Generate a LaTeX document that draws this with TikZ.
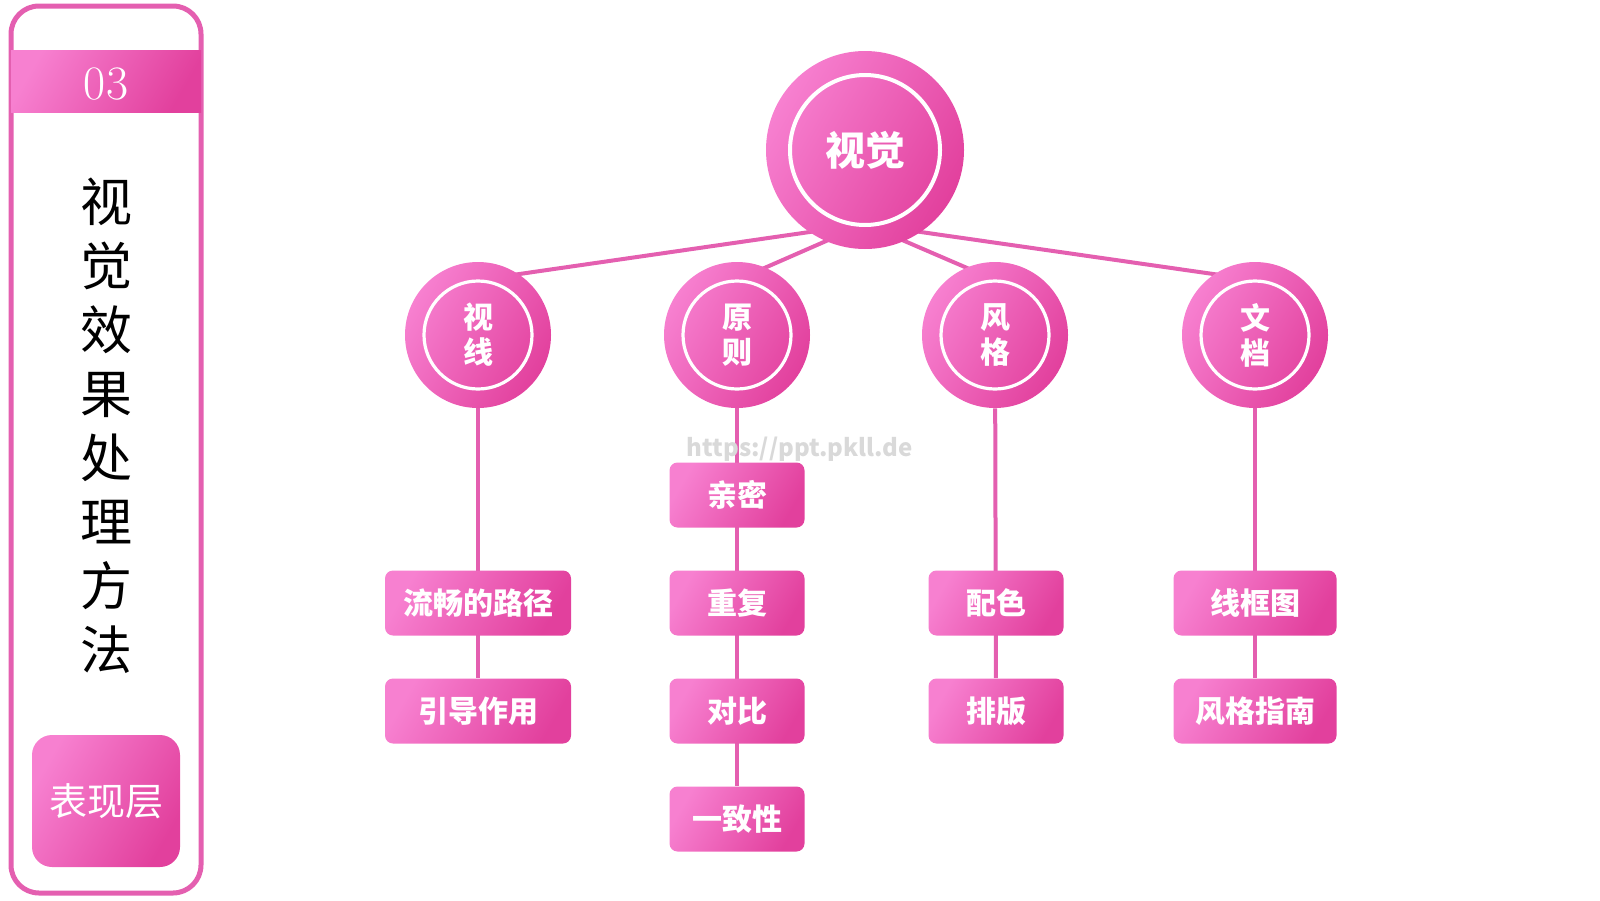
\documentclass[tikz,border=0pt]{standalone}
\usepackage{fontspec}
\newfontfamily\cjk{Noto Sans CJK SC}
\usetikzlibrary{backgrounds}
\definecolor{pinkline}{HTML}{E45FB0}
\definecolor{pinklight}{HTML}{F780D0}
\definecolor{pinkdark}{HTML}{E2409D}

\begin{document}
\begin{tikzpicture}[x=0.5pt, y=-0.5pt,
      pinkfill/.style={left color=pinklight, right color=pinkdark, shading angle=60},
      hub/.style={circle, minimum size=99pt, pinkfill, text=white, font=\cjk\bfseries\fontsize{20}{24}\selectfont,
        path picture={\draw[white, line width=2pt] (path picture bounding box.center) circle (37.5pt);}},
      topic/.style={circle, minimum size=73pt, pinkfill, text=white, align=center, font=\cjk\bfseries\fontsize{15}{17.5}\selectfont,
        path picture={\draw[white, line width=1.6pt] (path picture bounding box.center) circle (27pt);}},
      item/.style={rounded corners=4pt, minimum height=32.5pt, pinkfill, text=white, font=\cjk\bfseries\fontsize{15}{18}\selectfont},
      conn/.style={draw=pinkline, line width=2pt}
    ]
      \useasboundingbox (0,0) rectangle (1600,900);

      % left panel
      \node[draw=pinkline, line width=2.5pt, rounded corners=14pt, minimum width=95pt, minimum height=443.5pt] (panel) at (106,449.5) {};
      \node[minimum width=95pt, minimum height=31pt, inner sep=0pt, pinkfill] (band) at (106,81) {};
      \node[text=white, font=\fontsize{24}{28}\selectfont] (num) at (106,84) {03};
      \node[align=center, font=\cjk\fontsize{26}{32}\selectfont] (title) at (106,426) {视\\觉\\效\\果\\处\\理\\方\\法};
      \node[rounded corners=10pt, minimum width=74pt, minimum height=66pt, pinkfill, text=white, font=\cjk\fontsize{19}{22}\selectfont] (layer) at (106,801) {表现层};

      % tree
      \node[hub] (top) at (865,150) {视觉};
      \node[topic] (c1) at (478,335) {视\\线};
      \node[topic] (c2) at (737,335) {原\\则};
      \node[topic] (c3) at (995,335) {风\\格};
      \node[topic] (c4) at (1255,335) {文\\档};

      \node[item, minimum width=93pt] (b1a) at (478,603) {流畅的路径};
      \node[item, minimum width=93pt] (b1b) at (478,711) {引导作用};
      \node[item, minimum width=67.5pt] (b2a) at (737,495) {亲密};
      \node[item, minimum width=67.5pt] (b2b) at (737,603) {重复};
      \node[item, minimum width=67.5pt] (b2c) at (737,711) {对比};
      \node[item, minimum width=67.5pt] (b2d) at (737,819) {一致性};
      \node[item, minimum width=67.5pt] (b3a) at (996,603) {配色};
      \node[item, minimum width=67.5pt] (b3b) at (996,711) {排版};
      \node[item, minimum width=81.5pt] (b4a) at (1255,603) {线框图};
      \node[item, minimum width=81.5pt] (b4b) at (1255,711) {风格指南};

      \node[text=black!15, font=\cjk\bfseries\fontsize{12}{14}\selectfont] (mark) at (800,449) {https://ppt.pkll.de};

      \begin{scope}[on background layer]
        \draw[conn] ([yshift=-37pt]top.center) -- ([yshift=27.5pt]c1.center);
        \draw[conn] ([yshift=-37pt]top.center) -- ([yshift=27.5pt]c2.center);
        \draw[conn] ([yshift=-37pt]top.center) -- ([yshift=27.5pt]c3.center);
        \draw[conn] ([yshift=-37pt]top.center) -- ([yshift=27.5pt]c4.center);
        \draw[conn] (c1) -- (b1b);
        \draw[conn] (c2) -- (b2d);
        \draw[conn] (c3) -- (b3b);
        \draw[conn] (c4) -- (b4b);
      \end{scope}
    \end{tikzpicture}
\end{document}
